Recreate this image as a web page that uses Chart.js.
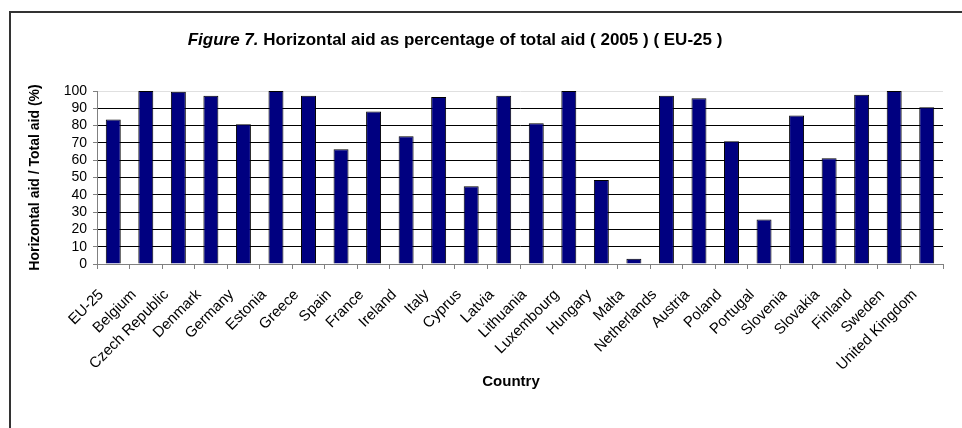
<!DOCTYPE html>
<html>
<head>
<meta charset="utf-8">
<script src="https://cdn.jsdelivr.net/npm/chart.js@4.4.1/dist/chart.umd.min.js"></script>
<style>
  body { margin: 0; background: #fff; }
  #wrap { position: relative; width: 962px; height: 428px; overflow: hidden; }
  #frame { position: absolute; left: 9px; top: 11px; width: 1000px; height: 500px; border: 2px solid #333; }
  canvas { position: absolute; left: 0; top: 0; }
</style>
</head>
<body>
<div id="wrap">
  <div id="frame"></div>
  <canvas id="aidChart" width="962" height="428"></canvas>
</div>
<script>
// Countries
const countries = ["EU-25", "Belgium", "Czech Republic", "Denmark", "Germany", "Estonia", "Greece",
  "Spain", "France", "Ireland", "Italy", "Cyprus", "Latvia", "Lithuania", "Luxembourg", "Hungary",
  "Malta", "Netherlands", "Austria", "Poland", "Portugal", "Slovenia", "Slovakia", "Finland",
  "Sweden", "United Kingdom"];

// Horizontal aid as % of total aid
const horizontalShare = [83.5, 100, 99.6, 97.3, 80.8, 100, 97.3,
  66.3, 88.1, 73.8, 96.6, 45.0, 97.3, 81.4, 100, 48.5,
  3.1, 97.3, 95.8, 70.9, 25.7, 85.8, 61.1, 97.9,
  100, 90.6];

// y-axis ticks
const yTicks = [0, 10, 20, 30, 40, 50, 60, 70, 80, 90, 100];

const FONT = "'Liberation Sans', Arial, sans-serif";

// Title with italic "Figure 7." part, plus the x-axis caption
const titlePlugin = {
  id: "titlePlugin",
  afterDraw(chart) {
    const c = chart.ctx;
    const part1 = "Figure 7.";
    const part2 = " Horizontal aid as percentage of total aid ( 2005 ) ( EU-25 )";
    c.save();
    c.fillStyle = "#000";
    c.textBaseline = "middle";
    c.font = "italic bold 17px " + FONT;
    const w1 = c.measureText(part1).width;
    c.font = "bold 17px " + FONT;
    const w2 = c.measureText(part2).width;
    let x = 455 - (w1 + w2) / 2;
    c.font = "italic bold 17px " + FONT;
    c.fillText(part1, x, 40);
    c.font = "bold 17px " + FONT;
    c.fillText(part2, x + w1, 40);
    // x axis caption
    c.textAlign = "center";
    c.font = "bold 15px " + FONT;
    c.fillText("Country", 511, 382);
    c.restore();
  }
};

const ctx = document.getElementById("aidChart").getContext("2d");
new Chart(ctx, {
  type: "bar",
  data: {
    labels: countries,
    datasets: [{
      label: "Horizontal aid / Total aid (%)",
      data: horizontalShare,
      backgroundColor: "#000080",
      borderColor: "#000",
      borderWidth: 1,
      barPercentage: 0.46,
      categoryPercentage: 1
    }]
  },
  options: {
    responsive: false,
    animation: false,
    layout: { padding: { left: 27, right: 19, top: 91, bottom: 37 } },
    plugins: { legend: { display: false }, tooltip: { enabled: false } },
    scales: {
      x: {
        afterFit: s => { s.height = 127; },
        grid: { offset: true, drawOnChartArea: false, tickLength: 5, tickColor: "#808080" },
        border: { color: "#808080" },
        ticks: {
          autoSkip: false, maxRotation: 45, minRotation: 45, padding: 17, labelOffset: -12,
          color: "#000", font: { family: FONT, size: 15 }
        }
      },
      y: {
        min: 0, max: 100,
        afterFit: s => { s.width = 70; },
        afterBuildTicks: s => { s.ticks = yTicks.map(v => ({ value: v })); },
        grid: {
          tickLength: 4, tickColor: "#808080",
          color: c => c.tick.value === 100 ? "#e0e0e0" : (c.tick.value === 0 ? "#808080" : "#000")
        },
        border: { color: "#808080" },
        ticks: { autoSkip: false, padding: 6, color: "#000", font: { family: FONT, size: 14 } },
        title: {
          display: true, text: "Horizontal aid / Total aid (%)", color: "#000",
          font: { family: FONT, size: 14, weight: "bold" }, padding: 0
        }
      }
    }
  },
  plugins: [titlePlugin]
});
</script>
</body>
</html>
